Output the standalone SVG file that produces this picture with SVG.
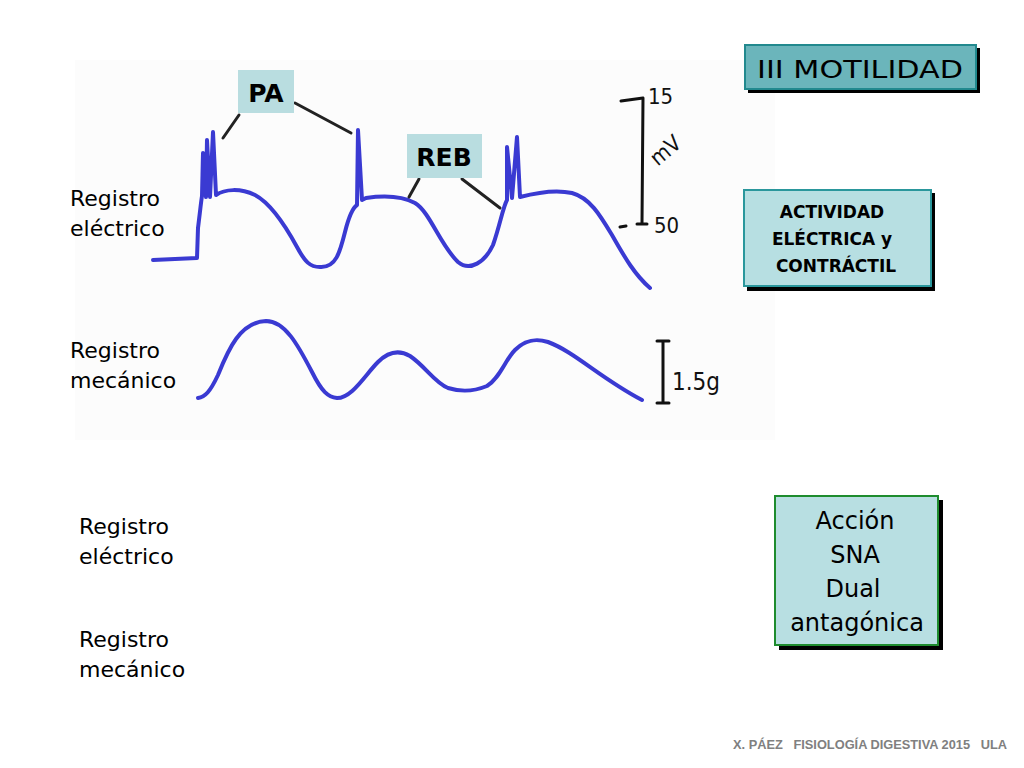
<svg xmlns="http://www.w3.org/2000/svg" width="1024" height="768" viewBox="0 0 1024 768">
<style>
.lbl{font-family:"DejaVu Sans","Liberation Sans",sans-serif;font-size:22px;fill:#000}
.trace{fill:none;stroke:#3a3ad2;stroke-width:4;stroke-linecap:round;stroke-linejoin:round}
.ink{fill:none;stroke:#111;stroke-width:3;stroke-linecap:round}
.conn{stroke:#222;stroke-width:3;stroke-linecap:round}
.boxtxt{font-family:"DejaVu Sans","Liberation Sans",sans-serif;fill:#000;text-anchor:middle}
.hand{font-family:"DejaVu Sans Condensed","DejaVu Sans",sans-serif;fill:#111}
</style>
<rect width="1024" height="768" fill="#ffffff"/>
<rect x="75" y="60" width="700" height="380" fill="#fcfcfc"/>

<g id="traces">
<path class="trace" d="M153,260 L197,258 L198,228 C200,212 201,202 202,196 L203,153 L206,197 L207,140 L210,197 L213,132 L216,195 C225,189 240,188 255,195 C270,203 285,225 297,247 C305,262 310,267 320,267 C336,268 340,252 345,232 C350,212 354,207 357,205 L358,130 L362,200 L366,198 C380,196 400,195 415,203 C430,212 440,245 458,262 C470,272 485,262 493,245 C500,225 503,207 507,200 L507,147 L512,198 L517,137 L520,197 C535,193 555,189 572,193 C590,198 600,215 612,235 C625,258 635,275 650,288"/>
<path class="trace" d="M198,398 C205,397 210,392 218,375 C228,350 240,322 266,321 C285,321 298,345 312,372 C322,392 328,397 337,398 C352,398 365,375 378,362 C388,352 398,349 410,356 C425,366 435,383 448,388 C458,391 470,393 487,386 C500,378 505,360 515,350 C525,340 535,338 548,342 C575,352 600,378 642,400"/>
</g>

<g id="scale-mv">
<path class="ink" d="M621,101 L643,98 M643,98 L642,223 M637,224 L647,224 M620,227 L626,226"/>
<text class="hand" x="648" y="104" font-size="22">15</text>
<text class="hand" x="648" y="160" font-size="22" transform="rotate(-40 662 150)">mV</text>
<text class="hand" x="654" y="233" font-size="22">50</text>
</g>

<g id="scale-g">
<path class="ink" d="M663,341 L663,403 M657,341 L669,341 M657,403 L669,403"/>
<text class="hand" x="672" y="390" font-size="24">1.5g</text>
</g>

<g id="connectors">
<line class="conn" x1="239" y1="115" x2="223" y2="138"/>
<line class="conn" x1="295" y1="103" x2="351" y2="133"/>
<line class="conn" x1="419" y1="179" x2="409" y2="197"/>
<line class="conn" x1="462" y1="179" x2="500" y2="208"/>
</g>

<g id="node-pa">
<rect x="238" y="70" width="56" height="43" fill="#b9dde0"/>
<text class="boxtxt" x="266" y="102" font-size="25" font-weight="bold">PA</text>
</g>
<g id="node-reb">
<rect x="407" y="134" width="75" height="44" fill="#b9dde0"/>
<text class="boxtxt" x="444" y="166" font-size="25" font-weight="bold">REB</text>
</g>

<g id="labels">
<text class="lbl" x="70" y="206">Registro</text>
<text class="lbl" x="70" y="236">eléctrico</text>
<text class="lbl" x="70" y="358">Registro</text>
<text class="lbl" x="70" y="388">mecánico</text>
<text class="lbl" x="79" y="534">Registro</text>
<text class="lbl" x="79" y="564">eléctrico</text>
<text class="lbl" x="79" y="647">Registro</text>
<text class="lbl" x="79" y="677">mecánico</text>
</g>

<g id="node-motilidad">
<rect x="748" y="48" width="232" height="45" fill="#000"/>
<rect x="745" y="45" width="231" height="44" fill="#6bb5bb" stroke="#22898e" stroke-width="2"/>
<text class="boxtxt" x="860" y="78" font-size="24" textLength="206" lengthAdjust="spacingAndGlyphs">III MOTILIDAD</text>
</g>

<g id="node-actividad">
<rect x="747" y="193" width="188" height="98" fill="#000"/>
<rect x="744" y="190" width="187" height="96" fill="#b7dfe2" stroke="#2a979c" stroke-width="2"/>
<text class="boxtxt" x="832" y="218" font-size="17" font-weight="bold">ACTIVIDAD</text>
<text class="boxtxt" x="832" y="245" font-size="17" font-weight="bold">ELÉCTRICA y</text>
<text class="boxtxt" x="836" y="272" font-size="17" font-weight="bold">CONTRÁCTIL</text>
</g>

<g id="node-accion">
<rect x="779" y="500" width="164" height="150" fill="#000"/>
<rect x="775" y="496" width="163" height="149" fill="#b8dfe2" stroke="#1e8c2e" stroke-width="2"/>
<text class="boxtxt" x="855" y="529" font-size="24">Acción</text>
<text class="boxtxt" x="855" y="563" font-size="24">SNA</text>
<text class="boxtxt" x="853" y="597" font-size="24">Dual</text>
<text class="boxtxt" x="857" y="631" font-size="24">antagónica</text>
</g>

<text x="733" y="749" font-family="Liberation Sans, Arial, sans-serif" font-size="12" font-weight="bold" fill="#808080" xml:space="preserve" textLength="274" lengthAdjust="spacingAndGlyphs">X. PÁEZ   FISIOLOGÍA DIGESTIVA 2015   ULA</text>
</svg>
